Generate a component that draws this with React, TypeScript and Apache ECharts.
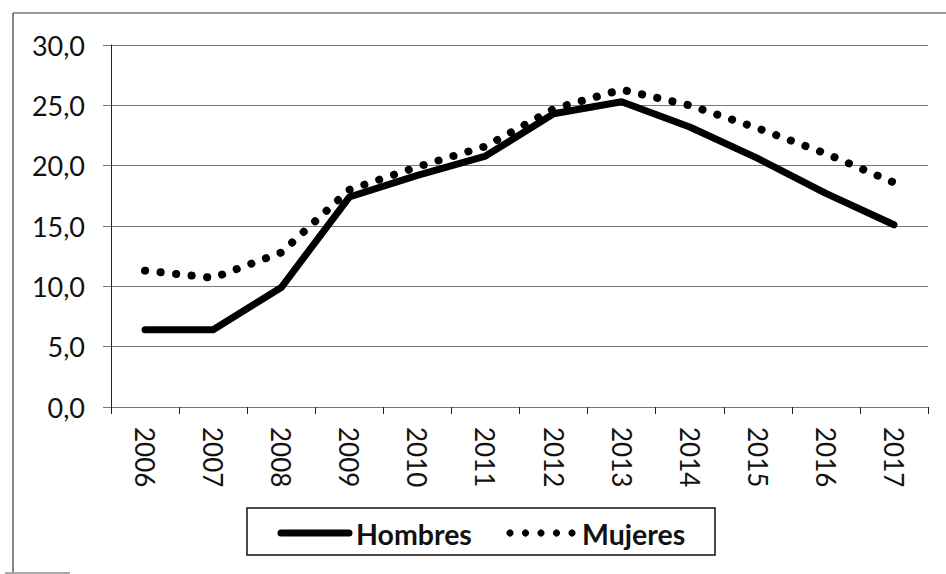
import React, { useEffect, useRef } from "react";
import * as echarts from "echarts";

const years = ["2006", "2007", "2008", "2009", "2010", "2011", "2012", "2013", "2014", "2015", "2016", "2017"];
const hombres = [6.4, 6.4, 9.9, 17.4, 19.2, 20.8, 24.3, 25.3, 23.2, 20.6, 17.7, 15.1];
const mujeres = [11.3, 10.7, 12.8, 18.0, 19.9, 21.6, 24.7, 26.3, 25.0, 23.1, 21.0, 18.6];
const seriesNames = ["Hombres", "Mujeres"];

const FONT = "Lato";

export default function App() {
  const ref = useRef<HTMLDivElement>(null);
  useEffect(() => {
    if (!ref.current) return;
    const chart = echarts.init(ref.current, undefined, { renderer: "svg" });
    const legendY = 533;
    const dots = [510, 525.5, 541, 556.5, 572].map((cx) => ({
      type: "circle",
      shape: { cx, cy: legendY, r: 3.6 },
      style: { fill: "#000" },
    }));
    chart.setOption({
      animation: false,
      backgroundColor: "#ffffff",
      grid: { left: 111, right: 18, top: 45, bottom: 167 },
      xAxis: {
        type: "category",
        data: years,
        boundaryGap: true,
        axisLine: { lineStyle: { color: "#777", width: 1 } },
        axisTick: { show: true, length: 7, lineStyle: { color: "#222", width: 1 } },
        axisLabel: { rotate: -90, margin: 20, fontSize: 26, color: "#111", fontFamily: FONT },
      },
      yAxis: {
        type: "value",
        min: 0,
        max: 30,
        interval: 5,
        axisLine: { show: true, lineStyle: { color: "#222", width: 1 } },
        axisTick: { show: true, length: 8, lineStyle: { color: "#777" } },
        splitLine: { lineStyle: { color: "#777", width: 1 } },
        axisLabel: {
          margin: 26,
          fontSize: 27,
          color: "#111",
          fontFamily: FONT,
          formatter: (v: number) => v.toFixed(1).replace(".", ","),
        },
      },
      graphic: [
        { type: "rect", shape: { x: 247, y: 508, width: 468, height: 47 }, style: { fill: "none", stroke: "#111", lineWidth: 1.5 } },
        { type: "line", shape: { x1: 281, y1: legendY, x2: 349, y2: legendY }, style: { stroke: "#000", lineWidth: 7, lineCap: "round" } },
        ...dots,
        {
          type: "text",
          x: 356,
          y: legendY + 1,
          style: { text: seriesNames[0], fontSize: 28.5, fontWeight: "bold", fontFamily: FONT, fill: "#111", verticalAlign: "middle", align: "left" },
        },
        {
          type: "text",
          x: 582,
          y: legendY + 1,
          style: { text: seriesNames[1], fontSize: 28.5, fontWeight: "bold", fontFamily: FONT, fill: "#111", verticalAlign: "middle", align: "left" },
        },
        { type: "line", shape: { x1: 13, y1: 13, x2: 946, y2: 13 }, style: { stroke: "#333", lineWidth: 1.2 } },
        { type: "line", shape: { x1: 13, y1: 13, x2: 13, y2: 572 }, style: { stroke: "#333", lineWidth: 1.2 } },
        { type: "line", shape: { x1: 5, y1: 573, x2: 70, y2: 573 }, style: { stroke: "#555", lineWidth: 1 } },
      ],
      series: [
        {
          name: seriesNames[0],
          type: "line",
          data: hombres,
          symbol: "none",
          lineStyle: { color: "#000", width: 7, cap: "round", join: "round" },
          itemStyle: { color: "#000" },
        },
        {
          name: seriesNames[1],
          type: "line",
          data: mujeres,
          symbol: "none",
          lineStyle: { color: "#000", width: 8, type: [0.1, 15.5], cap: "round", join: "round" },
          itemStyle: { color: "#000" },
        },
      ],
    });
    return () => chart.dispose();
  }, []);
  return <div ref={ref} style={{ width: 946, height: 574, position: "absolute", left: 0, top: 0 }} />;
}
